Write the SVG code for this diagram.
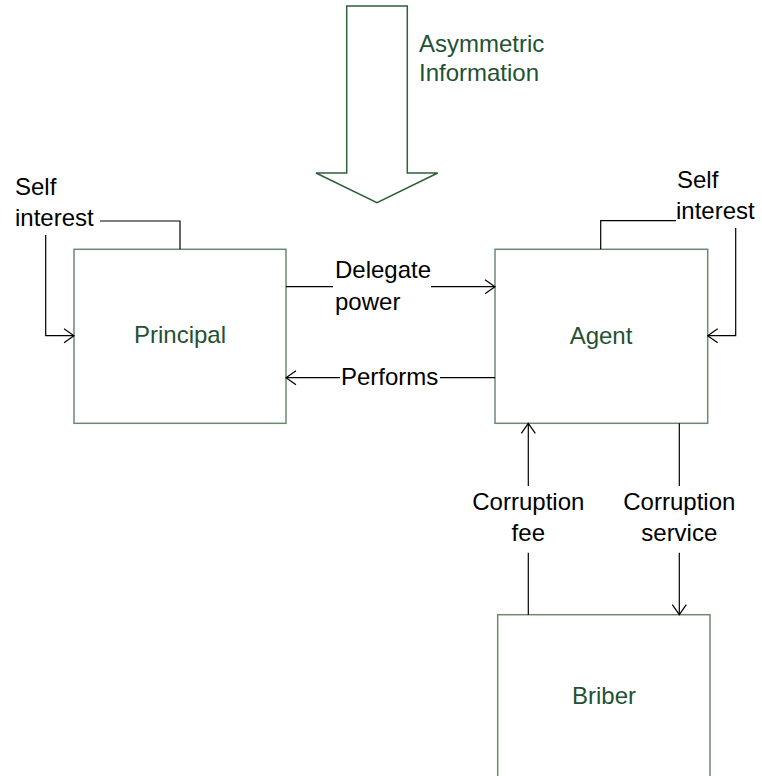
<svg xmlns="http://www.w3.org/2000/svg" width="762" height="776" viewBox="0 0 762 776">
<defs>
<style>
.box{fill:#fff;stroke:#6b8a72;stroke-width:1.5}
.node{font-family:"Liberation Sans",Arial,sans-serif;font-size:24px;fill:#1f5233}
.lbl{font-family:"Liberation Sans",Arial,sans-serif;font-size:24px;fill:#000}
.con{fill:none;stroke:#000;stroke-width:1.2}
</style>
<marker id="ah" viewBox="0 0 12 16" refX="11" refY="8" markerWidth="12" markerHeight="16" markerUnits="userSpaceOnUse" orient="auto">
<path d="M1,1 L11,8 L1,15" fill="none" stroke="#000" stroke-width="1.2"/>
</marker>
</defs>
<rect width="762" height="776" fill="#fff"/>
<g id="asymmetric-information">
<polygon points="346.7,6 407.3,6 407.3,173 437.7,173 377,202.7 316,173 346.7,173" fill="#fff" stroke="#2f5f3a" stroke-width="1.5"/>
<text class="node" x="419" y="52">Asymmetric</text>
<text class="node" x="419" y="81">Information</text>
</g>
<g id="principal">
<rect class="box" x="74" y="249.3" width="212" height="174"/>
<text class="node" x="180" y="343" text-anchor="middle">Principal</text>
</g>
<g id="agent">
<rect class="box" x="495" y="249.3" width="212.7" height="174"/>
<text class="node" x="601" y="344" text-anchor="middle">Agent</text>
</g>
<g id="briber">
<rect class="box" x="497.7" y="614.7" width="212.3" height="170"/>
<text class="node" x="604" y="704" text-anchor="middle">Briber</text>
</g>
<g id="connectors">
<path class="con" d="M100,221 H180 V249.3"/>
<path class="con" d="M45.7,235 V335.7 H74" marker-end="url(#ah)"/>
<text class="lbl" x="15" y="195">Self</text>
<text class="lbl" x="15" y="226">interest</text>
<path class="con" d="M286,286.7 H333"/>
<path class="con" d="M431,286.7 H495" marker-end="url(#ah)"/>
<text class="lbl" x="335" y="278">Delegate</text>
<text class="lbl" x="335" y="310">power</text>
<path class="con" d="M340,377.7 H286" marker-end="url(#ah)"/>
<path class="con" d="M495,377.7 H440"/>
<text class="lbl" x="341" y="385">Performs</text>
<path class="con" d="M600.7,249.3 V220.7 H676"/>
<path class="con" d="M735.7,228 V335.7 H707.7" marker-end="url(#ah)"/>
<text class="lbl" x="677" y="188">Self</text>
<text class="lbl" x="676" y="219">interest</text>
<path class="con" d="M528.3,486 V423.3" marker-end="url(#ah)"/>
<path class="con" d="M528.3,552.7 V614.7"/>
<text class="lbl" x="528.3" y="510" text-anchor="middle">Corruption</text>
<text class="lbl" x="528.3" y="541" text-anchor="middle">fee</text>
<path class="con" d="M679.3,423.3 V486"/>
<path class="con" d="M679.3,552.7 V614.7" marker-end="url(#ah)"/>
<text class="lbl" x="679.3" y="510" text-anchor="middle">Corruption</text>
<text class="lbl" x="679.3" y="541" text-anchor="middle">service</text>
</g>
</svg>
